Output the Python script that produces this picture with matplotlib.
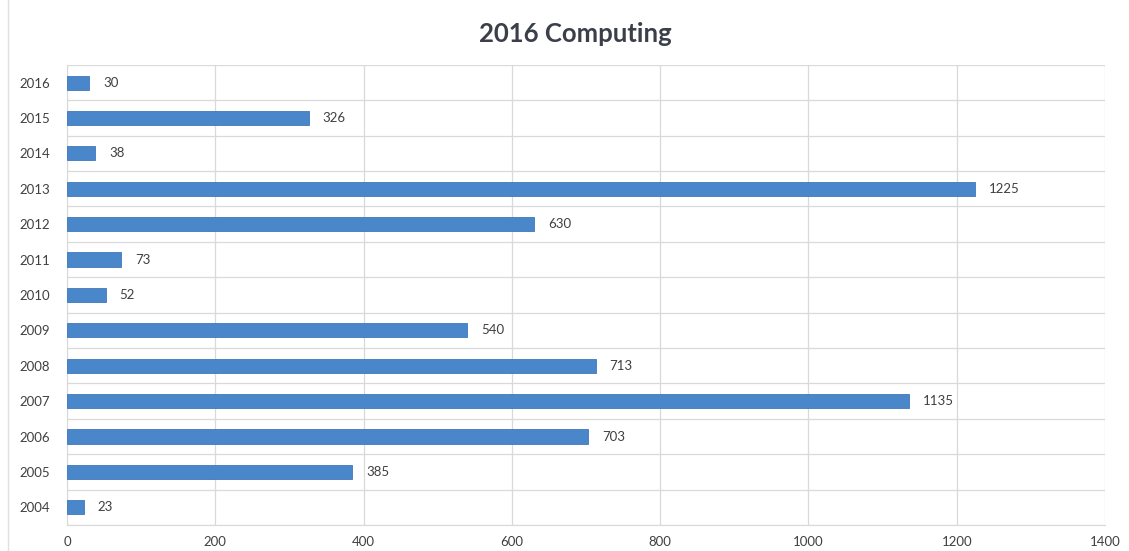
import matplotlib.pyplot as plt
from matplotlib.lines import Line2D

# data
years = ['2004', '2005', '2006', '2007', '2008', '2009', '2010',
         '2011', '2012', '2013', '2014', '2015', '2016']
counts = [23, 385, 703, 1135, 713, 540, 52, 73, 630, 1225, 38, 326, 30]

plt.rcParams['font.family'] = ['Lato', 'DejaVu Sans']

fig = plt.figure(figsize=(11.29, 5.51), dpi=100)
ax = fig.add_axes([0.0593, 0.0472, 0.9195, 0.835])

ypos = list(range(len(years)))
ax.barh(ypos, counts, height=0.4, color='#4A86CA', edgecolor='#3F78BA', linewidth=0.6, zorder=3)

for y, v in zip(ypos, counts):
    ax.annotate(str(v), xy=(v, y), xytext=(10, 0), textcoords='offset points',
                va='center', ha='left', fontsize=9.5, color='#404040')

ax.set_xlim(0, 1400)
ax.set_ylim(-0.5, len(years) - 0.5)
ax.set_xticks(range(0, 1401, 200))
ax.set_yticks(ypos)
ax.set_yticklabels(years)

# gridlines: vertical at x ticks, horizontal between categories
ax.set_yticks([i - 0.5 for i in range(len(years) + 1)], minor=True)
ax.grid(axis='x', which='major', color='#D9D9D9', linewidth=0.9, zorder=0)
ax.grid(axis='y', which='minor', color='#D9D9D9', linewidth=0.9, zorder=0)
ax.tick_params(axis='both', which='both', length=0)
ax.tick_params(axis='y', which='major', pad=12, labelsize=9.5, labelcolor='#404040')
ax.tick_params(axis='x', which='major', pad=8, labelsize=9.5, labelcolor='#404040')

for s in ['top', 'right']:
    ax.spines[s].set_visible(False)
for s in ['left', 'bottom']:
    ax.spines[s].set_color('#D9D9D9')

fig.text(0.51, 0.938, '2016 Computing', ha='center', va='center',
         fontsize=18.5, fontweight='bold', color='#3A3F4A')

# faint border line on the left edge of the picture
fig.add_artist(Line2D([0.007, 0.007], [0, 1], color='#E0E0E0', linewidth=1,
                      transform=fig.transFigure))

plt.savefig('out.png', dpi=100)
